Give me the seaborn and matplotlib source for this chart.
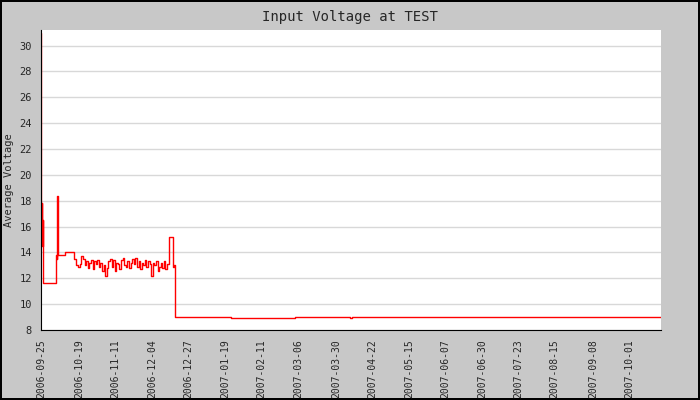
import matplotlib
matplotlib.use("Agg")
import matplotlib.pyplot as plt
import matplotlib.dates as mdates
import seaborn as sns
import pandas as pd
import numpy as np

sns.set_style("white")
plt.rcParams['font.family'] = ['DejaVu Sans Mono', 'DejaVu Sans']

start = pd.Timestamp("2006-09-25")
# (day offset, voltage) key points
head_days = [0, 0.3, 0.6, 0.9, 1.2, 1.5, 9.5, 9.8, 10.4, 10.8, 11.3, 15.0, 19.5, 21.0, 22.0]
head_vals = [31.0, 15.0, 17.8, 14.5, 16.5, 11.6, 13.8, 13.5, 18.4, 13.8, 13.8, 14.0, 14.0, 13.5, 13.0]
noise_vals = [13.0, 12.9, 13.1, 13.7, 13.5, 13.0, 13.3, 12.8, 13.2, 13.4, 12.7, 13.3, 13.1, 13.4,
              12.9, 13.2, 12.6, 13.0, 12.2, 12.8, 13.3, 13.5, 12.9, 13.4, 12.6, 13.2, 13.1, 12.7,
              13.4, 13.6, 13.0, 12.9, 13.3, 12.8, 13.2, 13.5, 13.1, 13.6, 12.9, 13.3, 12.7, 13.2,
              13.0, 13.4, 12.9, 13.3, 13.1, 12.2, 13.2, 13.0, 13.3, 12.6, 12.9, 13.2, 12.8, 13.3,
              12.7, 13.1]
noise_days = list(np.arange(22.5, 22.5 + len(noise_vals)))
tail_days = [80.8, 83.0, 84.0, 84.6, 120, 160, 195, 196, 391]
tail_vals = [15.2, 12.9, 13.0, 9.0, 8.95, 9.0, 8.95, 9.0, 9.0]

days = head_days + noise_days + tail_days
vals = head_vals + noise_vals + tail_vals
df = pd.DataFrame({"date": start + pd.to_timedelta(days, unit="D"), "v": vals})

tick_labels = ["2006-09-25", "2006-10-19", "2006-11-11", "2006-12-04", "2006-12-27",
               "2007-01-19", "2007-02-11", "2007-03-06", "2007-03-30", "2007-04-22",
               "2007-05-15", "2007-06-07", "2007-06-30", "2007-07-23", "2007-08-15",
               "2007-09-08", "2007-10-01"]

fig = plt.figure(figsize=(7, 4), dpi=100, facecolor="#c8c8c8",
                 edgecolor="black", linewidth=1.5)
ax = fig.add_axes([41/700, 70/400, 620/700, 300/400])
ax.set_facecolor("white")
sns.lineplot(data=df, x="date", y="v", ax=ax, color="red", linewidth=1.0,
             drawstyle="steps-post", estimator=None)
ax.set_ylim(8, 31.2)
ax.set_xlim(start, start + pd.Timedelta(days=391))
ax.set_yticks(range(8, 31, 2))
ax.set_yticks(range(9, 32, 2), minor=True)
ax.yaxis.grid(True, color="#d8d8d8", linewidth=1)
ax.set_xticks(pd.to_datetime(tick_labels))
ax.set_xticklabels(tick_labels, rotation=90, fontsize=7)
ax.tick_params(axis="y", labelsize=7.5)
ax.tick_params(axis="both", which="both", direction="inout", length=6, width=1, color="black")
ax.tick_params(axis="y", which="minor", length=4)
for s in ["top", "right"]:
    ax.spines[s].set_visible(False)
ax.spines["left"].set_color("black")
ax.spines["bottom"].set_color("black")
ax.set_xlabel("")
ax.set_ylabel("Average Voltage", fontsize=7.5)
fig.suptitle("Input Voltage at TEST", y=0.975, fontsize=10)
fig.savefig("out.png", dpi=100, facecolor=fig.get_facecolor(), edgecolor="black")
